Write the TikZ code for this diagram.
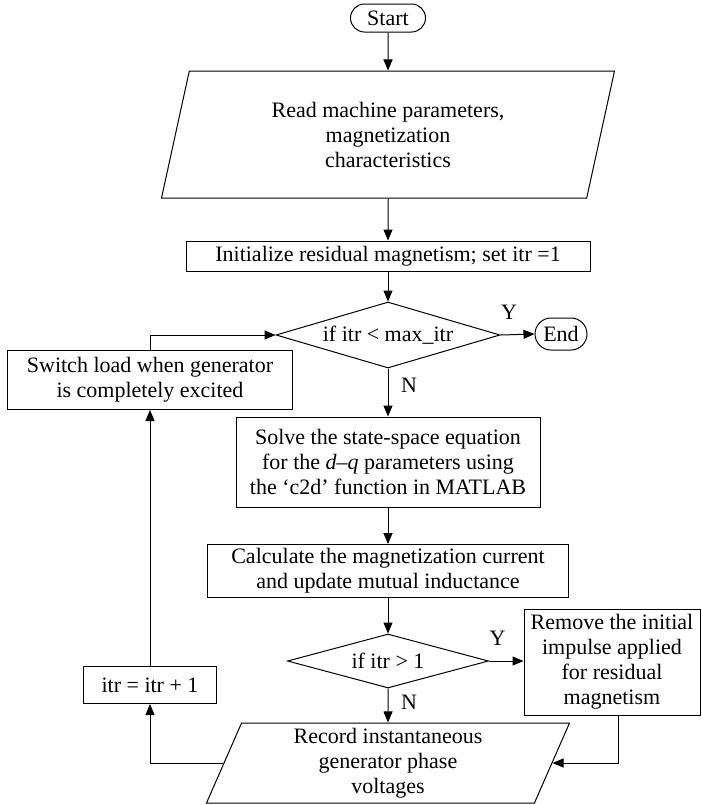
\documentclass[tikz,border=0pt]{standalone}
\usepackage{fontspec}
\setmainfont{Liberation Serif}
\usepackage{tikz}
\usetikzlibrary{
  arrows.meta,
  shapes.misc,
  shapes.geometric,
}

\begin{document}
\begin{tikzpicture}[x=0.5pt, y=-0.5pt, line width=0.5pt, >={Triangle[length=5.5pt,width=4.5pt]}]
	\tikzstyle{every node}=[font=\fontsize{11}{12.5}\selectfont]
	\tikzstyle{procbox}=[draw, shape=rectangle, align=center, inner sep=0pt]
	\tikzstyle{iobox}=[draw, shape=trapezium, trapezium stretches body, align=center, inner sep=0pt]
	\tikzstyle{testbox}=[draw, shape=diamond, inner sep=0pt]
	\tikzstyle{termbox}=[draw, shape=rounded rectangle, inner sep=0pt]
	\useasboundingbox (0,0) rectangle (702,805);
	% terminals
	\node (start) [termbox, minimum width=37.5pt, minimum height=14pt] at (388,18) {Start};
	\node (stop) [termbox, minimum width=26pt, minimum height=16pt] at (561,334) {End};
	% main column
	\node (readpar) [iobox, trapezium left angle=67, trapezium right angle=113,
		minimum width=226.5pt, minimum height=63.5pt] at (388,134.5)
		{Read machine parameters,\\ magnetization\\ characteristics};
	\node (init) [procbox, minimum width=202pt, minimum height=15pt] at (388,256)
		{Initialize residual magnetism; set itr =1};
	\node (itrtest) [testbox, aspect=3.4, minimum width=112pt, minimum height=33pt] at (388,335)
		{if itr < max\_itr};
	\node (solve) [procbox, minimum width=152pt, minimum height=45pt] at (388,462)
		{Solve the state-space equation\\ for the \textit{d}--\textit{q} parameters using\\ the `c2d' function in MATLAB};
	\node (magcur) [procbox, minimum width=180.5pt, minimum height=26.5pt] at (388,571)
		{Calculate the magnetization current\\ and update mutual inductance};
	\node (firsttest) [testbox, aspect=3.7, minimum width=100.5pt, minimum height=27pt] at (388,661)
		{if itr > 1};
	\node (record) [iobox, trapezium left angle=63.4, trapezium right angle=116.6,
		minimum width=181.5pt, minimum height=40pt] at (388,763)
		{Record instantaneous\\ generator phase\\ voltages};
	% side boxes
	\node (remove) [procbox, minimum width=88pt, minimum height=53pt] at (612,662)
		{Remove the initial\\ impulse applied\\ for residual\\ magnetism};
	\node (switch) [procbox, minimum width=142.5pt, minimum height=29.5pt] at (150,380)
		{Switch load when generator\\ is completely excited};
	\node (incr) [procbox, minimum width=66.5pt, minimum height=18.5pt] at (150,685)
		{itr = itr + 1};
	% flow
	\draw [->] (start) -- (readpar);
	\draw [->] (readpar.south) -- (init.north);
	\draw [->] (init) -- (itrtest);
	\draw [->] (itrtest.east) -- node [above=4pt, near start] {Y} (stop.west);
	\draw [->] (itrtest.south) -- node [right=3pt, pos=0.35] {N} (solve.north);
	\draw [->] (solve) -- (magcur);
	\draw [->] (magcur) -- (firsttest);
	\draw [->] (firsttest.east) -- node [above=4pt, near start] {Y} (firsttest.east -| remove.west);
	\draw [->] (firsttest.south) -- node [right=3pt, pos=0.4] {N} (record.north);
	\draw [->] ([xshift=3pt]remove.south) |- (record.right side);
	% loop back
	\draw [->] (record.left side) -| (incr.south);
	\draw [->] (incr) -- (switch);
	\draw [->] (switch.north) |- (itrtest.west);
\end{tikzpicture}
\end{document}
